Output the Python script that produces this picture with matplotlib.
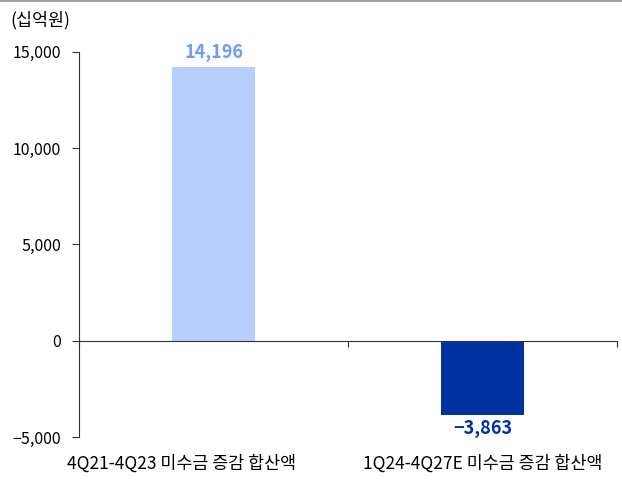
import matplotlib
matplotlib.use('Agg')
import matplotlib.pyplot as plt
from matplotlib.lines import Line2D
from matplotlib.transforms import blended_transform_factory

plt.rcParams['font.family'] = ['Noto Sans CJK KR', 'DejaVu Sans']

# data
categories = ['4Q21-4Q23 미수금 증감 합산액', '1Q24-4Q27E 미수금 증감 합산액']
cat_label_shift = [-0.12, 0.0]   # first label sits left of its bar in the source
values = [14196, -3863]
value_labels = ['14,196', '−3,863']
bar_colors = ['#B8CFFD', '#0033A0']
label_colors = ['#6E9CF7', '#0033A0']
yticks = [-5000, 0, 5000, 10000, 15000]
ytick_labels = ['−5,000', '0', '5,000', '10,000', '15,000']

fig = plt.figure(figsize=(6.22, 4.84), dpi=100)
ax = fig.add_axes([0.127, 0.097, 0.865, 0.796])

x = list(range(len(categories)))
ax.bar(x, values, width=0.31, color=bar_colors, zorder=2)

# value labels above / below the bars
for xi, v, lab, c in zip(x, values, value_labels, label_colors):
    if v >= 0:
        ax.text(xi, v + 250, lab, ha='center', va='bottom', fontsize=13,
                fontweight='bold', color=c)
    else:
        ax.text(xi, v - 200, lab, ha='center', va='top', fontsize=13,
                fontweight='bold', color=c)

ax.set_xlim(-0.5, 1.5)
ax.set_ylim(-5000, 15000)
ax.set_yticks(yticks)
ax.set_yticklabels(ytick_labels, fontsize=11.5)

# x axis sits on zero line, ticks at category boundaries
for s in ['top', 'right']:
    ax.spines[s].set_visible(False)
ax.spines['bottom'].set_position(('data', 0))
ax.spines['bottom'].set_color('#333333')
ax.spines['left'].set_color('#333333')
ax.set_xticks([-0.5, 0.5, 1.5])
ax.set_xticklabels([])
ax.tick_params(axis='x', direction='out', length=4, color='#333333')
ax.tick_params(axis='y', direction='out', length=5, color='#333333', pad=8)

trans = blended_transform_factory(ax.transData, ax.transAxes)
for xi, cat, dx in zip(x, categories, cat_label_shift):
    ax.text(xi + dx, -0.045, cat, transform=trans, ha='center', va='top',
            fontsize=12.5)

fig.text(0.016, 0.958, '(십억원)', ha='left', va='center', fontsize=12.5)

# thin gray rule along the top edge
fig.add_artist(Line2D([0, 1], [0.998, 0.998], transform=fig.transFigure,
                      color='#A0A0A0', linewidth=1.5))

plt.savefig('out.png', dpi=100)
